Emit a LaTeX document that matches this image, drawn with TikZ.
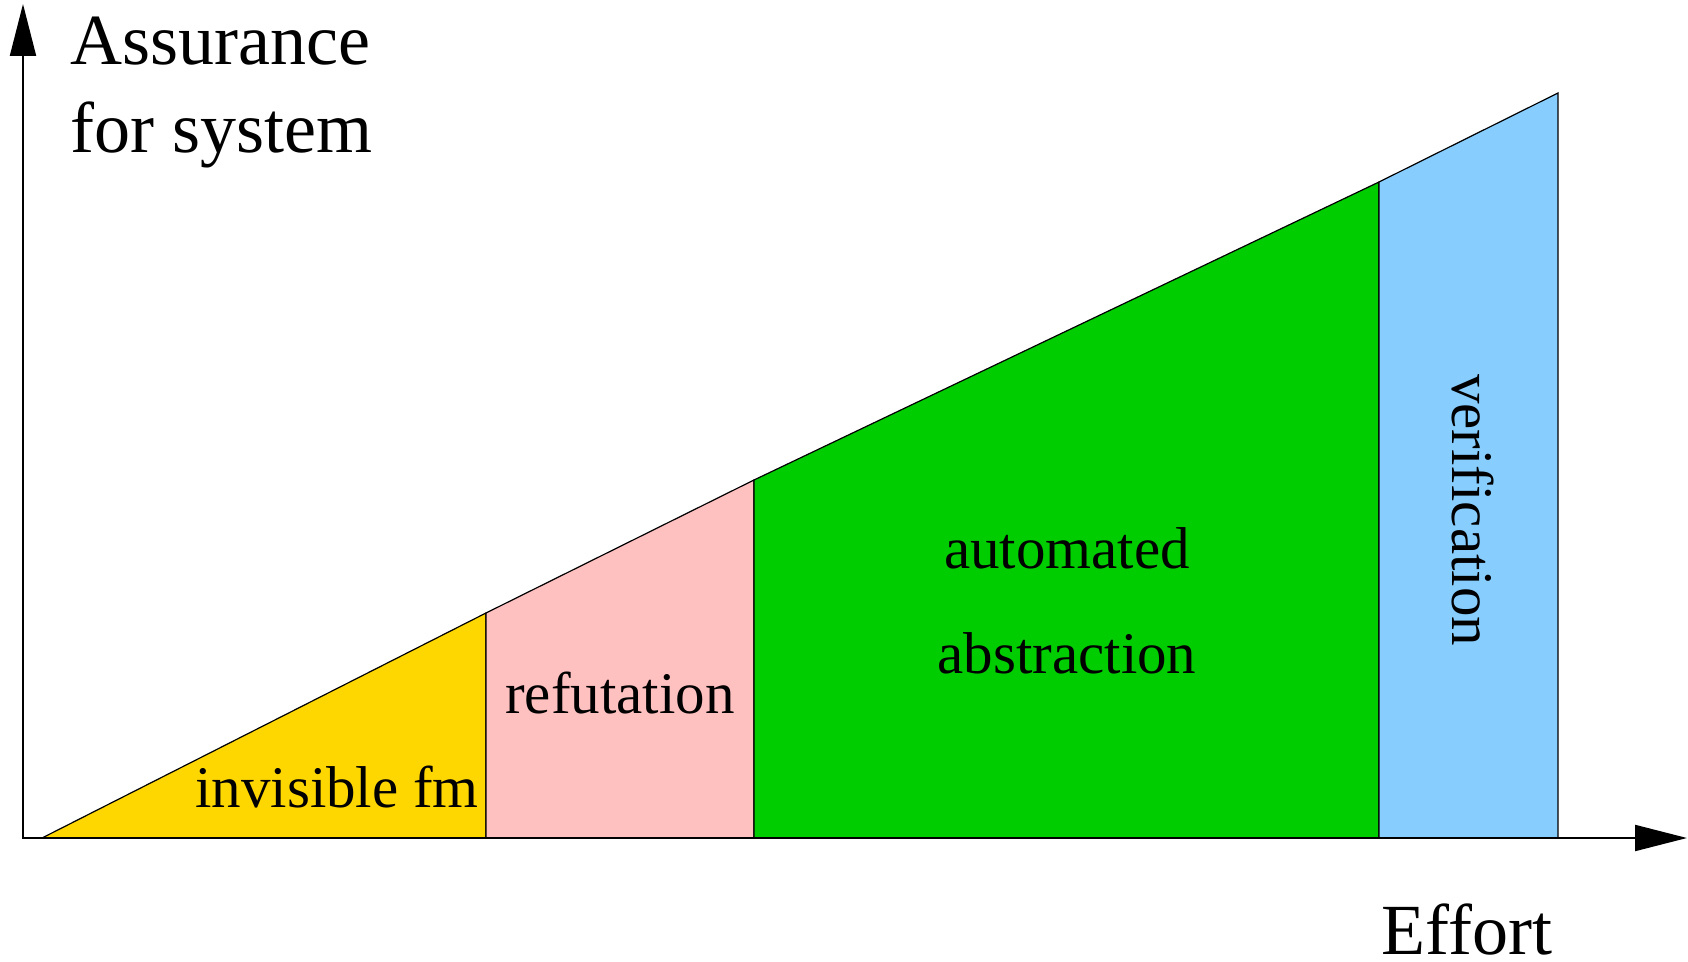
\documentclass[tikz,border=0pt]{standalone}
\usepackage{fontspec}
\setmainfont{Liberation Serif}
\usepackage{xcolor}
\definecolor{FmGold}{HTML}{FFD700}
\definecolor{RefPink}{HTML}{FFC0C0}
\definecolor{AbsGreen}{HTML}{00CD00}
\definecolor{VerBlue}{HTML}{87CEFF}
\usepackage{tikz}
\usetikzlibrary{arrows.meta, positioning}

\tikzset{
  band/.style={draw=black, line width=0.6pt, line join=miter},
  axislabel/.style={inner sep=0pt, font=\fontsize{36}{42}\selectfont},
  bandlabel/.style={inner sep=0pt, font=\fontsize{29.5}{35}\selectfont},
}

\begin{document}
\begin{tikzpicture}[x=0.5pt, y=-0.5pt]
  \useasboundingbox (0,0) rectangle (1688,962);
  % corners of the bands
  \coordinate (o) at (23,838);
  \coordinate (s) at (42,838);
  \coordinate (a0) at (486,838);  \coordinate (a1) at (486,613);
  \coordinate (b0) at (754,838);  \coordinate (b1) at (754,480);
  \coordinate (c0) at (1379,838); \coordinate (c1) at (1379,182);
  \coordinate (d0) at (1558,838); \coordinate (d1) at (1558,93);
  \coordinate (ytip) at (23,4);
  \coordinate (xtip) at (1687,838);

  \draw[band, fill=FmGold] (s)--(a1)--(a0)--cycle;
  \draw[band, fill=RefPink] (a0)--(a1)--(b1)--(b0)--cycle;
  \draw[band, fill=AbsGreen] (b0)--(b1)--(c1)--(c0)--cycle;
  \draw[band, fill=VerBlue] (c0)--(c1)--(d1)--(d0)--cycle;

  \draw[line width=1pt, {Triangle[length=26pt,width=13pt]}-{Triangle[length=26pt,width=13pt]}]
    (ytip)--(o)--(xtip);

  \node[axislabel, anchor=base west] (yl1) at (70,65) {Assurance};
  \node[axislabel, anchor=base west] (yl2) at (70,153) {for system};
  \node[axislabel, anchor=base west] (xl) at (1381,954) {Effort};

  \node[bandlabel, anchor=base] (fm) at (337,807) {invisible fm};
  \node[bandlabel, anchor=base] (ref) at (620,713) {refutation};
  \node[bandlabel, anchor=base] (aut1) at (1067,569) {automated};
  \node[bandlabel, anchor=base] (aut2) at (1067,674) {abstraction};
  \node[bandlabel, anchor=base, rotate=-90] (ver) at (1452,510) {verification};
\end{tikzpicture}
\end{document}
